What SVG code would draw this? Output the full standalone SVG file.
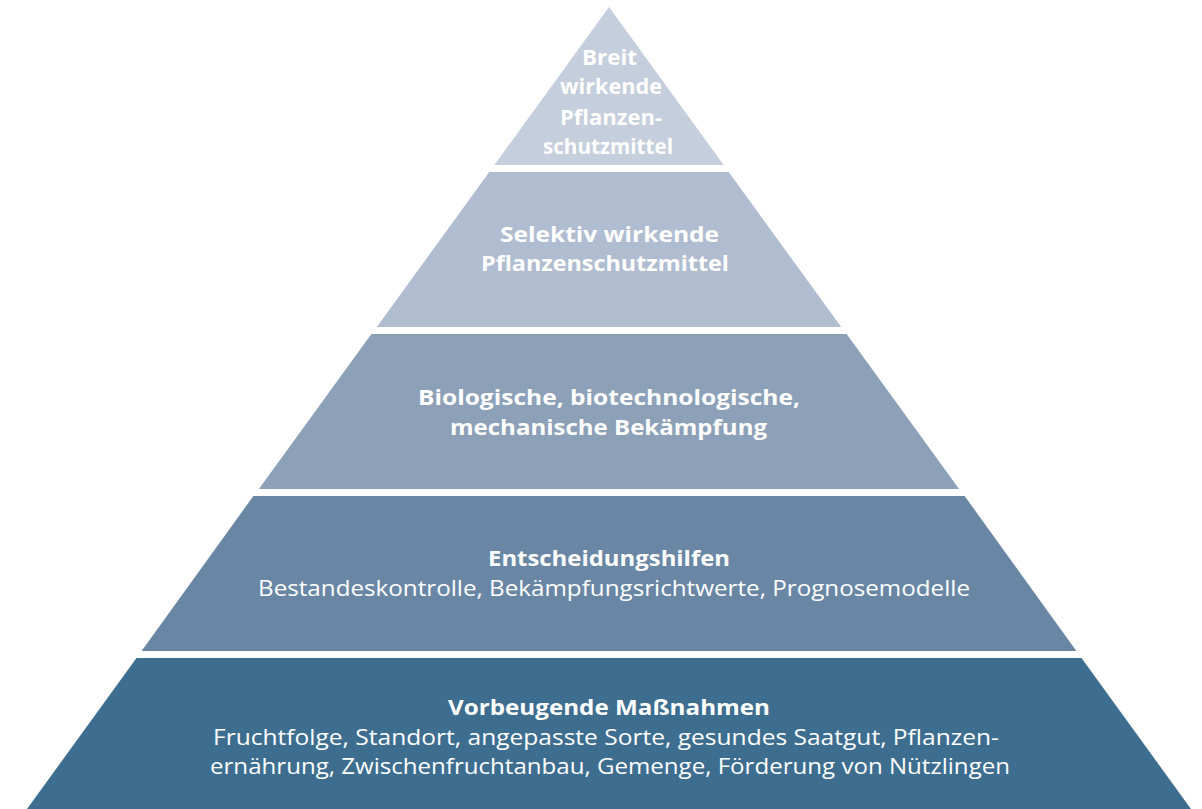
<svg xmlns="http://www.w3.org/2000/svg" width="1202" height="809" viewBox="0 0 1202 809">
<style>
text{font-family:"Open Sans","Noto Sans","DejaVu Sans",sans-serif;fill:#ffffff;text-anchor:middle;font-size:22px}
.b{font-weight:700}
</style>
<rect width="1202" height="809" fill="#ffffff"/>
<g id="layer1">
<polygon points="609,7 723.7,165 494.3,165" fill="#c5cedc"/>
<text class="b" x="609.5" y="65" textLength="55" lengthAdjust="spacingAndGlyphs">Breit</text>
<text class="b" x="611" y="94" textLength="102" lengthAdjust="spacingAndGlyphs">wirkende</text>
<text class="b" x="611" y="125" textLength="102" lengthAdjust="spacingAndGlyphs">Pflanzen-</text>
<text class="b" x="608" y="154" textLength="130" lengthAdjust="spacingAndGlyphs">schutzmittel</text>
</g>
<g id="layer2">
<polygon points="489.3,172 728.7,172 841.2,327 376.8,327" fill="#b0bccf"/>
<text class="b" x="609.5" y="242" textLength="219" lengthAdjust="spacingAndGlyphs">Selektiv wirkende</text>
<text class="b" x="605" y="271" textLength="248" lengthAdjust="spacingAndGlyphs">Pflanzenschutzmittel</text>
</g>
<g id="layer3">
<polygon points="371.4,334 846.6,334 959.1,489 258.9,489" fill="#8ca0b8"/>
<text class="b" x="609" y="405" textLength="382" lengthAdjust="spacingAndGlyphs">Biologische, biotechnologische,</text>
<text class="b" x="608.5" y="435" textLength="317" lengthAdjust="spacingAndGlyphs">mechanische Bekämpfung</text>
</g>
<g id="layer4">
<polygon points="253.4,496 964.6,496 1076.4,651 141.6,651" fill="#6987a5"/>
<text class="b" x="609" y="566" textLength="242" lengthAdjust="spacingAndGlyphs">Entscheidungshilfen</text>
<text x="614" y="596" textLength="712" lengthAdjust="spacingAndGlyphs">Bestandeskontrolle, Bekämpfungsrichtwerte, Prognosemodelle</text>
</g>
<g id="layer5">
<polygon points="136.5,658 1081.5,658 1191,809 27,809" fill="#3e6e8f"/>
<text class="b" x="609" y="715" textLength="322" lengthAdjust="spacingAndGlyphs">Vorbeugende Maßnahmen</text>
<text x="606" y="745" textLength="786" lengthAdjust="spacingAndGlyphs">Fruchtfolge, Standort, angepasste Sorte, gesundes Saatgut, Pflanzen-</text>
<text x="610" y="774" textLength="800" lengthAdjust="spacingAndGlyphs">ernährung, Zwischenfruchtanbau, Gemenge, Förderung von Nützlingen</text>
</g>
</svg>
